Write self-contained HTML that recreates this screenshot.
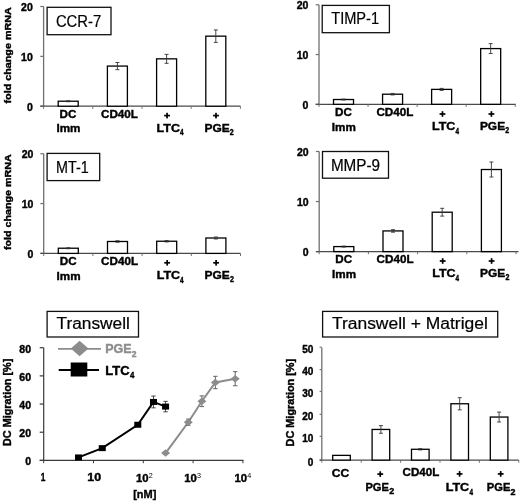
<!DOCTYPE html>
<html><head><meta charset="utf-8"><style>
html,body{margin:0;padding:0;background:#fff;width:520px;height:502px;overflow:hidden}
svg{display:block;font-family:"Liberation Sans", sans-serif;filter:grayscale(1)}
</style></head><body>
<svg width="520" height="502" viewBox="0 0 520 502">
<rect width="520" height="502" fill="#fff"/>
<line x1="43.60" y1="6.50" x2="43.60" y2="106.20" stroke="#707070" stroke-width="1.3"/>
<line x1="40.30" y1="106.20" x2="43.60" y2="106.20" stroke="#707070" stroke-width="1.2"/>
<text x="26.89" y="110.50" font-size="10.5" font-weight="bold" fill="#000" stroke="#000" stroke-width="0.4">0</text>
<line x1="40.30" y1="56.35" x2="43.60" y2="56.35" stroke="#707070" stroke-width="1.2"/>
<text x="21.07" y="60.65" font-size="10.5" font-weight="bold" fill="#000" stroke="#000" stroke-width="0.4">10</text>
<line x1="40.30" y1="6.50" x2="43.60" y2="6.50" stroke="#707070" stroke-width="1.2"/>
<text x="21.07" y="10.80" font-size="10.5" font-weight="bold" fill="#000" stroke="#000" stroke-width="0.4">20</text>
<line x1="40.30" y1="106.20" x2="240.50" y2="106.20" stroke="#4a4a4a" stroke-width="1.2"/>
<line x1="43.60" y1="106.20" x2="43.60" y2="108.80" stroke="#707070" stroke-width="1.0"/>
<line x1="92.80" y1="106.20" x2="92.80" y2="108.80" stroke="#707070" stroke-width="1.0"/>
<line x1="142.00" y1="106.20" x2="142.00" y2="108.80" stroke="#707070" stroke-width="1.0"/>
<line x1="191.20" y1="106.20" x2="191.20" y2="108.80" stroke="#707070" stroke-width="1.0"/>
<line x1="240.40" y1="106.20" x2="240.40" y2="108.80" stroke="#707070" stroke-width="1.0"/>
<rect x="58.20" y="101.22" width="20.00" height="4.98" fill="#fff" stroke="#000" stroke-width="1.3"/>
<line x1="68.20" y1="100.72" x2="68.20" y2="101.71" stroke="#333" stroke-width="0.9"/>
<line x1="66.20" y1="100.72" x2="70.20" y2="100.72" stroke="#333" stroke-width="0.9"/>
<line x1="66.20" y1="101.71" x2="70.20" y2="101.71" stroke="#333" stroke-width="0.9"/>
<rect x="107.40" y="66.07" width="20.00" height="40.13" fill="#fff" stroke="#000" stroke-width="1.3"/>
<line x1="117.40" y1="62.48" x2="117.40" y2="69.66" stroke="#333" stroke-width="0.9"/>
<line x1="115.40" y1="62.48" x2="119.40" y2="62.48" stroke="#333" stroke-width="0.9"/>
<line x1="115.40" y1="69.66" x2="119.40" y2="69.66" stroke="#333" stroke-width="0.9"/>
<rect x="156.60" y="58.84" width="20.00" height="47.36" fill="#fff" stroke="#000" stroke-width="1.3"/>
<line x1="166.60" y1="54.36" x2="166.60" y2="63.33" stroke="#333" stroke-width="0.9"/>
<line x1="164.60" y1="54.36" x2="168.60" y2="54.36" stroke="#333" stroke-width="0.9"/>
<line x1="164.60" y1="63.33" x2="168.60" y2="63.33" stroke="#333" stroke-width="0.9"/>
<rect x="205.80" y="36.16" width="20.00" height="70.04" fill="#fff" stroke="#000" stroke-width="1.3"/>
<line x1="215.80" y1="29.93" x2="215.80" y2="42.39" stroke="#333" stroke-width="0.9"/>
<line x1="213.80" y1="29.93" x2="217.80" y2="29.93" stroke="#333" stroke-width="0.9"/>
<line x1="213.80" y1="42.39" x2="217.80" y2="42.39" stroke="#333" stroke-width="0.9"/>
<rect x="47.10" y="7.30" width="63.90" height="27.40" fill="#fff" stroke="#111" stroke-width="1.3"/>
<text x="55.91" y="26.70" font-size="16" font-weight="normal" fill="#000" stroke="#000" stroke-width="0.2" textLength="45.35" lengthAdjust="spacingAndGlyphs">CCR-7</text>
<text x="59.64" y="118.00" font-size="11.5" font-weight="bold" fill="#000" stroke="#000" stroke-width="0.4" textLength="16.80" lengthAdjust="spacingAndGlyphs">DC</text>
<text x="56.44" y="132.40" font-size="11.5" font-weight="bold" fill="#000" stroke="#000" stroke-width="0.4" textLength="24.03" lengthAdjust="spacingAndGlyphs">Imm</text>
<text x="101.03" y="117.70" font-size="11.5" font-weight="bold" fill="#000" stroke="#000" stroke-width="0.4" textLength="36.95" lengthAdjust="spacingAndGlyphs">CD40L</text>
<rect x="164.17" y="114.75" width="5.80" height="1.70" fill="#000"/>
<rect x="166.22" y="112.80" width="1.70" height="5.60" fill="#000"/>
<rect x="213.10" y="114.75" width="5.80" height="1.70" fill="#000"/>
<rect x="215.15" y="112.80" width="1.70" height="5.60" fill="#000"/>
<text x="156.59" y="131.50" font-size="11.5" font-weight="bold" fill="#000" stroke="#000" stroke-width="0.4" textLength="23.42" lengthAdjust="spacingAndGlyphs">LTC</text>
<text x="180.00" y="135.30" font-size="8.5" font-weight="bold" fill="#000" stroke="#000" stroke-width="0.4" textLength="3.53" lengthAdjust="spacingAndGlyphs">4</text>
<text x="204.52" y="131.50" font-size="11.5" font-weight="bold" fill="#000" stroke="#000" stroke-width="0.4" textLength="25.22" lengthAdjust="spacingAndGlyphs">PGE</text>
<text x="229.85" y="134.90" font-size="8.5" font-weight="bold" fill="#000" stroke="#000" stroke-width="0.4" textLength="3.94" lengthAdjust="spacingAndGlyphs">2</text>
<text transform="translate(11.40,103.46) rotate(-90)" x="0" y="0" font-size="9.8" font-weight="bold" stroke="#000" stroke-width="0.4" textLength="96.23" lengthAdjust="spacingAndGlyphs">fold change mRNA</text>
<line x1="319.00" y1="4.80" x2="319.00" y2="104.30" stroke="#707070" stroke-width="1.3"/>
<line x1="315.70" y1="104.30" x2="319.00" y2="104.30" stroke="#707070" stroke-width="1.2"/>
<text x="302.59" y="108.60" font-size="10.5" font-weight="bold" fill="#000" stroke="#000" stroke-width="0.4">0</text>
<line x1="315.70" y1="54.55" x2="319.00" y2="54.55" stroke="#707070" stroke-width="1.2"/>
<text x="296.76" y="58.85" font-size="10.5" font-weight="bold" fill="#000" stroke="#000" stroke-width="0.4">10</text>
<line x1="315.70" y1="4.80" x2="319.00" y2="4.80" stroke="#707070" stroke-width="1.2"/>
<text x="296.76" y="9.10" font-size="10.5" font-weight="bold" fill="#000" stroke="#000" stroke-width="0.4">20</text>
<line x1="315.70" y1="104.30" x2="515.80" y2="104.30" stroke="#4a4a4a" stroke-width="1.2"/>
<line x1="319.00" y1="104.30" x2="319.00" y2="106.90" stroke="#707070" stroke-width="1.0"/>
<line x1="368.05" y1="104.30" x2="368.05" y2="106.90" stroke="#707070" stroke-width="1.0"/>
<line x1="417.10" y1="104.30" x2="417.10" y2="106.90" stroke="#707070" stroke-width="1.0"/>
<line x1="466.15" y1="104.30" x2="466.15" y2="106.90" stroke="#707070" stroke-width="1.0"/>
<line x1="515.20" y1="104.30" x2="515.20" y2="106.90" stroke="#707070" stroke-width="1.0"/>
<rect x="333.52" y="99.52" width="20.00" height="4.78" fill="#fff" stroke="#000" stroke-width="1.3"/>
<line x1="343.52" y1="99.03" x2="343.52" y2="100.02" stroke="#333" stroke-width="0.9"/>
<line x1="341.52" y1="99.03" x2="345.52" y2="99.03" stroke="#333" stroke-width="0.9"/>
<line x1="341.52" y1="100.02" x2="345.52" y2="100.02" stroke="#333" stroke-width="0.9"/>
<rect x="382.57" y="94.20" width="20.00" height="10.10" fill="#fff" stroke="#000" stroke-width="1.3"/>
<line x1="392.57" y1="93.45" x2="392.57" y2="94.95" stroke="#333" stroke-width="0.9"/>
<line x1="390.57" y1="93.45" x2="394.57" y2="93.45" stroke="#333" stroke-width="0.9"/>
<line x1="390.57" y1="94.95" x2="394.57" y2="94.95" stroke="#333" stroke-width="0.9"/>
<rect x="431.62" y="89.38" width="20.00" height="14.92" fill="#fff" stroke="#000" stroke-width="1.3"/>
<line x1="441.62" y1="88.38" x2="441.62" y2="90.37" stroke="#333" stroke-width="0.9"/>
<line x1="439.62" y1="88.38" x2="443.62" y2="88.38" stroke="#333" stroke-width="0.9"/>
<line x1="439.62" y1="90.37" x2="443.62" y2="90.37" stroke="#333" stroke-width="0.9"/>
<rect x="480.67" y="48.58" width="20.00" height="55.72" fill="#fff" stroke="#000" stroke-width="1.3"/>
<line x1="490.67" y1="43.61" x2="490.67" y2="53.56" stroke="#333" stroke-width="0.9"/>
<line x1="488.67" y1="43.61" x2="492.67" y2="43.61" stroke="#333" stroke-width="0.9"/>
<line x1="488.67" y1="53.56" x2="492.67" y2="53.56" stroke="#333" stroke-width="0.9"/>
<rect x="322.20" y="5.40" width="67.20" height="27.30" fill="#fff" stroke="#111" stroke-width="1.3"/>
<text x="331.23" y="24.40" font-size="15.6" font-weight="normal" fill="#000" stroke="#000" stroke-width="0.2" textLength="47.89" lengthAdjust="spacingAndGlyphs">TIMP-1</text>
<text x="335.04" y="116.40" font-size="11.5" font-weight="bold" fill="#000" stroke="#000" stroke-width="0.4" textLength="16.80" lengthAdjust="spacingAndGlyphs">DC</text>
<text x="331.84" y="130.80" font-size="11.5" font-weight="bold" fill="#000" stroke="#000" stroke-width="0.4" textLength="24.03" lengthAdjust="spacingAndGlyphs">Imm</text>
<text x="376.43" y="116.10" font-size="11.5" font-weight="bold" fill="#000" stroke="#000" stroke-width="0.4" textLength="36.95" lengthAdjust="spacingAndGlyphs">CD40L</text>
<rect x="439.57" y="113.15" width="5.80" height="1.70" fill="#000"/>
<rect x="441.62" y="111.20" width="1.70" height="5.60" fill="#000"/>
<rect x="488.50" y="113.15" width="5.80" height="1.70" fill="#000"/>
<rect x="490.55" y="111.20" width="1.70" height="5.60" fill="#000"/>
<text x="431.99" y="129.90" font-size="11.5" font-weight="bold" fill="#000" stroke="#000" stroke-width="0.4" textLength="23.42" lengthAdjust="spacingAndGlyphs">LTC</text>
<text x="455.40" y="133.70" font-size="8.5" font-weight="bold" fill="#000" stroke="#000" stroke-width="0.4" textLength="3.53" lengthAdjust="spacingAndGlyphs">4</text>
<text x="479.92" y="129.90" font-size="11.5" font-weight="bold" fill="#000" stroke="#000" stroke-width="0.4" textLength="25.22" lengthAdjust="spacingAndGlyphs">PGE</text>
<text x="505.25" y="133.30" font-size="8.5" font-weight="bold" fill="#000" stroke="#000" stroke-width="0.4" textLength="3.94" lengthAdjust="spacingAndGlyphs">2</text>
<line x1="43.70" y1="153.70" x2="43.70" y2="253.40" stroke="#707070" stroke-width="1.3"/>
<line x1="40.40" y1="253.40" x2="43.70" y2="253.40" stroke="#707070" stroke-width="1.2"/>
<text x="27.49" y="257.70" font-size="10.5" font-weight="bold" fill="#000" stroke="#000" stroke-width="0.4">0</text>
<line x1="40.40" y1="203.55" x2="43.70" y2="203.55" stroke="#707070" stroke-width="1.2"/>
<text x="21.67" y="207.85" font-size="10.5" font-weight="bold" fill="#000" stroke="#000" stroke-width="0.4">10</text>
<line x1="40.40" y1="153.70" x2="43.70" y2="153.70" stroke="#707070" stroke-width="1.2"/>
<text x="21.67" y="158.00" font-size="10.5" font-weight="bold" fill="#000" stroke="#000" stroke-width="0.4">20</text>
<line x1="40.40" y1="253.40" x2="240.50" y2="253.40" stroke="#4a4a4a" stroke-width="1.2"/>
<line x1="43.70" y1="253.40" x2="43.70" y2="256.00" stroke="#707070" stroke-width="1.0"/>
<line x1="92.90" y1="253.40" x2="92.90" y2="256.00" stroke="#707070" stroke-width="1.0"/>
<line x1="142.10" y1="253.40" x2="142.10" y2="256.00" stroke="#707070" stroke-width="1.0"/>
<line x1="191.30" y1="253.40" x2="191.30" y2="256.00" stroke="#707070" stroke-width="1.0"/>
<line x1="240.50" y1="253.40" x2="240.50" y2="256.00" stroke="#707070" stroke-width="1.0"/>
<rect x="58.30" y="248.22" width="20.00" height="5.18" fill="#fff" stroke="#000" stroke-width="1.3"/>
<line x1="68.30" y1="247.72" x2="68.30" y2="248.71" stroke="#333" stroke-width="0.9"/>
<line x1="66.30" y1="247.72" x2="70.30" y2="247.72" stroke="#333" stroke-width="0.9"/>
<line x1="66.30" y1="248.71" x2="70.30" y2="248.71" stroke="#333" stroke-width="0.9"/>
<rect x="107.50" y="241.49" width="20.00" height="11.91" fill="#fff" stroke="#000" stroke-width="1.3"/>
<line x1="117.50" y1="240.74" x2="117.50" y2="242.23" stroke="#333" stroke-width="0.9"/>
<line x1="115.50" y1="240.74" x2="119.50" y2="240.74" stroke="#333" stroke-width="0.9"/>
<line x1="115.50" y1="242.23" x2="119.50" y2="242.23" stroke="#333" stroke-width="0.9"/>
<rect x="156.70" y="241.24" width="20.00" height="12.16" fill="#fff" stroke="#000" stroke-width="1.3"/>
<line x1="166.70" y1="240.49" x2="166.70" y2="241.98" stroke="#333" stroke-width="0.9"/>
<line x1="164.70" y1="240.49" x2="168.70" y2="240.49" stroke="#333" stroke-width="0.9"/>
<line x1="164.70" y1="241.98" x2="168.70" y2="241.98" stroke="#333" stroke-width="0.9"/>
<rect x="205.90" y="238.00" width="20.00" height="15.40" fill="#fff" stroke="#000" stroke-width="1.3"/>
<line x1="215.90" y1="237.00" x2="215.90" y2="238.99" stroke="#333" stroke-width="0.9"/>
<line x1="213.90" y1="237.00" x2="217.90" y2="237.00" stroke="#333" stroke-width="0.9"/>
<line x1="213.90" y1="238.99" x2="217.90" y2="238.99" stroke="#333" stroke-width="0.9"/>
<rect x="47.10" y="153.40" width="52.60" height="27.20" fill="#fff" stroke="#111" stroke-width="1.3"/>
<text x="56.05" y="172.70" font-size="15.6" font-weight="normal" fill="#000" stroke="#000" stroke-width="0.2" textLength="32.71" lengthAdjust="spacingAndGlyphs">MT-1</text>
<text x="59.74" y="265.20" font-size="11.5" font-weight="bold" fill="#000" stroke="#000" stroke-width="0.4" textLength="16.80" lengthAdjust="spacingAndGlyphs">DC</text>
<text x="56.54" y="279.60" font-size="11.5" font-weight="bold" fill="#000" stroke="#000" stroke-width="0.4" textLength="24.03" lengthAdjust="spacingAndGlyphs">Imm</text>
<text x="101.13" y="264.90" font-size="11.5" font-weight="bold" fill="#000" stroke="#000" stroke-width="0.4" textLength="36.95" lengthAdjust="spacingAndGlyphs">CD40L</text>
<rect x="164.27" y="261.95" width="5.80" height="1.70" fill="#000"/>
<rect x="166.32" y="260.00" width="1.70" height="5.60" fill="#000"/>
<rect x="213.20" y="261.95" width="5.80" height="1.70" fill="#000"/>
<rect x="215.25" y="260.00" width="1.70" height="5.60" fill="#000"/>
<text x="156.69" y="278.70" font-size="11.5" font-weight="bold" fill="#000" stroke="#000" stroke-width="0.4" textLength="23.42" lengthAdjust="spacingAndGlyphs">LTC</text>
<text x="180.10" y="282.50" font-size="8.5" font-weight="bold" fill="#000" stroke="#000" stroke-width="0.4" textLength="3.53" lengthAdjust="spacingAndGlyphs">4</text>
<text x="204.62" y="278.70" font-size="11.5" font-weight="bold" fill="#000" stroke="#000" stroke-width="0.4" textLength="25.22" lengthAdjust="spacingAndGlyphs">PGE</text>
<text x="229.95" y="282.10" font-size="8.5" font-weight="bold" fill="#000" stroke="#000" stroke-width="0.4" textLength="3.94" lengthAdjust="spacingAndGlyphs">2</text>
<text transform="translate(11.40,250.06) rotate(-90)" x="0" y="0" font-size="9.8" font-weight="bold" stroke="#000" stroke-width="0.4" textLength="95.83" lengthAdjust="spacingAndGlyphs">fold change mRNA</text>
<line x1="319.20" y1="151.50" x2="319.20" y2="251.60" stroke="#707070" stroke-width="1.3"/>
<line x1="315.90" y1="251.60" x2="319.20" y2="251.60" stroke="#707070" stroke-width="1.2"/>
<text x="302.79" y="255.90" font-size="10.5" font-weight="bold" fill="#000" stroke="#000" stroke-width="0.4">0</text>
<line x1="315.90" y1="201.55" x2="319.20" y2="201.55" stroke="#707070" stroke-width="1.2"/>
<text x="296.96" y="205.85" font-size="10.5" font-weight="bold" fill="#000" stroke="#000" stroke-width="0.4">10</text>
<line x1="315.90" y1="151.50" x2="319.20" y2="151.50" stroke="#707070" stroke-width="1.2"/>
<text x="296.96" y="155.80" font-size="10.5" font-weight="bold" fill="#000" stroke="#000" stroke-width="0.4">20</text>
<line x1="315.90" y1="251.60" x2="518.50" y2="251.60" stroke="#4a4a4a" stroke-width="1.2"/>
<line x1="319.20" y1="251.60" x2="319.20" y2="254.20" stroke="#707070" stroke-width="1.0"/>
<line x1="368.40" y1="251.60" x2="368.40" y2="254.20" stroke="#707070" stroke-width="1.0"/>
<line x1="417.60" y1="251.60" x2="417.60" y2="254.20" stroke="#707070" stroke-width="1.0"/>
<line x1="466.80" y1="251.60" x2="466.80" y2="254.20" stroke="#707070" stroke-width="1.0"/>
<line x1="516.00" y1="251.60" x2="516.00" y2="254.20" stroke="#707070" stroke-width="1.0"/>
<rect x="333.80" y="246.59" width="20.00" height="5.00" fill="#fff" stroke="#000" stroke-width="1.3"/>
<line x1="343.80" y1="246.09" x2="343.80" y2="247.10" stroke="#333" stroke-width="0.9"/>
<line x1="341.80" y1="246.09" x2="345.80" y2="246.09" stroke="#333" stroke-width="0.9"/>
<line x1="341.80" y1="247.10" x2="345.80" y2="247.10" stroke="#333" stroke-width="0.9"/>
<rect x="383.00" y="230.93" width="20.00" height="20.67" fill="#fff" stroke="#000" stroke-width="1.3"/>
<line x1="393.00" y1="229.68" x2="393.00" y2="232.18" stroke="#333" stroke-width="0.9"/>
<line x1="391.00" y1="229.68" x2="395.00" y2="229.68" stroke="#333" stroke-width="0.9"/>
<line x1="391.00" y1="232.18" x2="395.00" y2="232.18" stroke="#333" stroke-width="0.9"/>
<rect x="432.20" y="212.21" width="20.00" height="39.39" fill="#fff" stroke="#000" stroke-width="1.3"/>
<line x1="442.20" y1="208.31" x2="442.20" y2="216.11" stroke="#333" stroke-width="0.9"/>
<line x1="440.20" y1="208.31" x2="444.20" y2="208.31" stroke="#333" stroke-width="0.9"/>
<line x1="440.20" y1="216.11" x2="444.20" y2="216.11" stroke="#333" stroke-width="0.9"/>
<rect x="481.40" y="169.52" width="20.00" height="82.08" fill="#fff" stroke="#000" stroke-width="1.3"/>
<line x1="491.40" y1="162.01" x2="491.40" y2="177.03" stroke="#333" stroke-width="0.9"/>
<line x1="489.40" y1="162.01" x2="493.40" y2="162.01" stroke="#333" stroke-width="0.9"/>
<line x1="489.40" y1="177.03" x2="493.40" y2="177.03" stroke="#333" stroke-width="0.9"/>
<rect x="322.50" y="151.50" width="66.00" height="26.70" fill="#fff" stroke="#111" stroke-width="1.3"/>
<text x="330.88" y="171.15" font-size="15.6" font-weight="normal" fill="#000" stroke="#000" stroke-width="0.2" textLength="49.19" lengthAdjust="spacingAndGlyphs">MMP-9</text>
<text x="335.24" y="263.40" font-size="11.5" font-weight="bold" fill="#000" stroke="#000" stroke-width="0.4" textLength="16.80" lengthAdjust="spacingAndGlyphs">DC</text>
<text x="332.04" y="277.80" font-size="11.5" font-weight="bold" fill="#000" stroke="#000" stroke-width="0.4" textLength="24.03" lengthAdjust="spacingAndGlyphs">Imm</text>
<text x="376.63" y="263.10" font-size="11.5" font-weight="bold" fill="#000" stroke="#000" stroke-width="0.4" textLength="36.95" lengthAdjust="spacingAndGlyphs">CD40L</text>
<rect x="439.77" y="260.15" width="5.80" height="1.70" fill="#000"/>
<rect x="441.82" y="258.20" width="1.70" height="5.60" fill="#000"/>
<rect x="488.70" y="260.15" width="5.80" height="1.70" fill="#000"/>
<rect x="490.75" y="258.20" width="1.70" height="5.60" fill="#000"/>
<text x="432.19" y="276.90" font-size="11.5" font-weight="bold" fill="#000" stroke="#000" stroke-width="0.4" textLength="23.42" lengthAdjust="spacingAndGlyphs">LTC</text>
<text x="455.60" y="280.70" font-size="8.5" font-weight="bold" fill="#000" stroke="#000" stroke-width="0.4" textLength="3.53" lengthAdjust="spacingAndGlyphs">4</text>
<text x="480.12" y="276.90" font-size="11.5" font-weight="bold" fill="#000" stroke="#000" stroke-width="0.4" textLength="25.22" lengthAdjust="spacingAndGlyphs">PGE</text>
<text x="505.45" y="280.30" font-size="8.5" font-weight="bold" fill="#000" stroke="#000" stroke-width="0.4" textLength="3.94" lengthAdjust="spacingAndGlyphs">2</text>
<line x1="43.70" y1="347.70" x2="43.70" y2="460.40" stroke="#3a3a3a" stroke-width="1.2"/>
<line x1="39.70" y1="460.40" x2="43.70" y2="460.40" stroke="#3a3a3a" stroke-width="1.2"/>
<text x="25.19" y="465.40" font-size="10.5" font-weight="bold" fill="#000" stroke="#000" stroke-width="0.4">0</text>
<line x1="39.70" y1="432.22" x2="43.70" y2="432.22" stroke="#3a3a3a" stroke-width="1.2"/>
<text x="19.36" y="437.22" font-size="10.5" font-weight="bold" fill="#000" stroke="#000" stroke-width="0.4">20</text>
<line x1="39.70" y1="404.05" x2="43.70" y2="404.05" stroke="#3a3a3a" stroke-width="1.2"/>
<text x="19.36" y="409.05" font-size="10.5" font-weight="bold" fill="#000" stroke="#000" stroke-width="0.4">40</text>
<line x1="39.70" y1="375.88" x2="43.70" y2="375.88" stroke="#3a3a3a" stroke-width="1.2"/>
<text x="19.36" y="380.88" font-size="10.5" font-weight="bold" fill="#000" stroke="#000" stroke-width="0.4">60</text>
<line x1="39.70" y1="347.70" x2="43.70" y2="347.70" stroke="#3a3a3a" stroke-width="1.2"/>
<text x="19.36" y="352.70" font-size="10.5" font-weight="bold" fill="#000" stroke="#000" stroke-width="0.4">80</text>
<line x1="39.70" y1="460.40" x2="243.50" y2="460.40" stroke="#3a3a3a" stroke-width="1.2"/>
<line x1="43.70" y1="460.40" x2="43.70" y2="463.20" stroke="#3a3a3a" stroke-width="1.0"/>
<line x1="93.50" y1="460.40" x2="93.50" y2="463.20" stroke="#3a3a3a" stroke-width="1.0"/>
<line x1="143.30" y1="460.40" x2="143.30" y2="463.20" stroke="#3a3a3a" stroke-width="1.0"/>
<line x1="193.10" y1="460.40" x2="193.10" y2="463.20" stroke="#3a3a3a" stroke-width="1.0"/>
<line x1="242.90" y1="460.40" x2="242.90" y2="463.20" stroke="#3a3a3a" stroke-width="1.0"/>
<text x="40.75" y="481.40" font-size="11" font-weight="bold" fill="#000" stroke="#000" stroke-width="0.4" textLength="4.66" lengthAdjust="spacingAndGlyphs">1</text>
<text x="87.39" y="481.40" font-size="11" font-weight="bold" fill="#000" stroke="#000" stroke-width="0.4" textLength="13.84" lengthAdjust="spacingAndGlyphs">10</text>
<text x="136.06" y="482.00" font-size="11" font-weight="bold" fill="#000" stroke="#000" stroke-width="0.4" textLength="12.62" lengthAdjust="spacingAndGlyphs">10</text>
<text x="148.80" y="477.8" font-size="7.2" fill="#000">2</text>
<text x="184.26" y="482.00" font-size="11" font-weight="bold" fill="#000" stroke="#000" stroke-width="0.4" textLength="12.62" lengthAdjust="spacingAndGlyphs">10</text>
<text x="197.00" y="477.8" font-size="7.2" fill="#000">3</text>
<text x="234.56" y="482.00" font-size="11" font-weight="bold" fill="#000" stroke="#000" stroke-width="0.4" textLength="12.62" lengthAdjust="spacingAndGlyphs">10</text>
<text x="247.30" y="477.8" font-size="7.2" fill="#000">4</text>
<text x="133.20" y="497.60" font-size="11.8" font-weight="bold" fill="#000" stroke="#000" stroke-width="0.4" textLength="23.16" lengthAdjust="spacingAndGlyphs">[nM]</text>
<text transform="translate(10.60,446.00) rotate(-90)" x="0" y="0" font-size="10.3" font-weight="bold" stroke="#000" stroke-width="0.4" textLength="87.35" lengthAdjust="spacingAndGlyphs">DC Migration [%]</text>
<polyline points="165.57,453.07 188.27,422.22 201.87,401.23 215.37,382.50 235.19,378.69" fill="none" stroke="#8c8c8c" stroke-width="2"/>
<polygon points="161.07,453.07 165.57,449.27 170.07,453.07 165.57,456.87" fill="#8c8c8c"/>
<line x1="188.27" y1="419.12" x2="188.27" y2="425.32" stroke="#555" stroke-width="0.9"/>
<line x1="186.07" y1="419.12" x2="190.47" y2="419.12" stroke="#555" stroke-width="0.9"/>
<line x1="186.07" y1="425.32" x2="190.47" y2="425.32" stroke="#555" stroke-width="0.9"/>
<polygon points="183.77,422.22 188.27,418.42 192.77,422.22 188.27,426.02" fill="#8c8c8c"/>
<line x1="201.87" y1="395.88" x2="201.87" y2="406.59" stroke="#555" stroke-width="0.9"/>
<line x1="199.67" y1="395.88" x2="204.07" y2="395.88" stroke="#555" stroke-width="0.9"/>
<line x1="199.67" y1="406.59" x2="204.07" y2="406.59" stroke="#555" stroke-width="0.9"/>
<polygon points="197.37,401.23 201.87,397.43 206.37,401.23 201.87,405.03" fill="#8c8c8c"/>
<line x1="215.37" y1="376.30" x2="215.37" y2="388.69" stroke="#555" stroke-width="0.9"/>
<line x1="213.17" y1="376.30" x2="217.57" y2="376.30" stroke="#555" stroke-width="0.9"/>
<line x1="213.17" y1="388.69" x2="217.57" y2="388.69" stroke="#555" stroke-width="0.9"/>
<polygon points="210.87,382.50 215.37,378.70 219.87,382.50 215.37,386.30" fill="#8c8c8c"/>
<line x1="235.19" y1="371.65" x2="235.19" y2="385.74" stroke="#555" stroke-width="0.9"/>
<line x1="232.99" y1="371.65" x2="237.39" y2="371.65" stroke="#555" stroke-width="0.9"/>
<line x1="232.99" y1="385.74" x2="237.39" y2="385.74" stroke="#555" stroke-width="0.9"/>
<polygon points="230.69,378.69 235.19,374.89 239.69,378.69 235.19,382.49" fill="#8c8c8c"/>
<polyline points="78.51,457.44 102.27,448.14 137.79,424.76 153.47,401.94 165.57,406.59" fill="none" stroke="#000" stroke-width="2"/>
<rect x="75.01" y="454.44" width="7" height="6" fill="#000"/>
<rect x="98.77" y="445.14" width="7" height="6" fill="#000"/>
<line x1="137.79" y1="423.63" x2="137.79" y2="425.89" stroke="#333" stroke-width="0.9"/>
<line x1="135.59" y1="423.63" x2="139.99" y2="423.63" stroke="#333" stroke-width="0.9"/>
<line x1="135.59" y1="425.89" x2="139.99" y2="425.89" stroke="#333" stroke-width="0.9"/>
<rect x="134.29" y="421.76" width="7" height="6" fill="#000"/>
<line x1="153.47" y1="396.02" x2="153.47" y2="407.85" stroke="#333" stroke-width="0.9"/>
<line x1="151.27" y1="396.02" x2="155.67" y2="396.02" stroke="#333" stroke-width="0.9"/>
<line x1="151.27" y1="407.85" x2="155.67" y2="407.85" stroke="#333" stroke-width="0.9"/>
<rect x="149.97" y="398.94" width="7" height="6" fill="#000"/>
<line x1="165.57" y1="401.37" x2="165.57" y2="411.80" stroke="#333" stroke-width="0.9"/>
<line x1="163.37" y1="401.37" x2="167.77" y2="401.37" stroke="#333" stroke-width="0.9"/>
<line x1="163.37" y1="411.80" x2="167.77" y2="411.80" stroke="#333" stroke-width="0.9"/>
<rect x="162.07" y="403.59" width="7" height="6" fill="#000"/>
<line x1="58.00" y1="348.80" x2="101.00" y2="348.80" stroke="#8c8c8c" stroke-width="1.8"/>
<polygon points="70.8,348.5 79.6,340.8 88.5,348.5 79.6,356.2" fill="#8c8c8c"/>
<text x="105.29" y="353.30" font-size="12.3" font-weight="bold" fill="#8c8c8c" stroke="#8c8c8c" stroke-width="0.4" textLength="26.37" lengthAdjust="spacingAndGlyphs">PGE</text>
<text x="131.80" y="356.60" font-size="8.5" font-weight="bold" fill="#8c8c8c" stroke="#8c8c8c" stroke-width="0.4" textLength="4.75" lengthAdjust="spacingAndGlyphs">2</text>
<line x1="58.70" y1="370.00" x2="99.00" y2="370.00" stroke="#000" stroke-width="1.8"/>
<rect x="70.7" y="362.5" width="16.6" height="14" fill="#000"/>
<text x="105.26" y="374.80" font-size="12.3" font-weight="bold" fill="#000" stroke="#000" stroke-width="0.4" textLength="24.26" lengthAdjust="spacingAndGlyphs">LTC</text>
<text x="129.98" y="378.10" font-size="8.5" font-weight="bold" fill="#000" stroke="#000" stroke-width="0.4" textLength="4.37" lengthAdjust="spacingAndGlyphs">4</text>
<rect x="47.10" y="311.40" width="91.40" height="25.60" fill="#fff" stroke="#111" stroke-width="1.3"/>
<text x="56.47" y="329.30" font-size="16" font-weight="normal" fill="#000" stroke="#000" stroke-width="0.2" textLength="73.39" lengthAdjust="spacingAndGlyphs">Transwell</text>
<line x1="321.80" y1="347.40" x2="321.80" y2="460.10" stroke="#707070" stroke-width="1.3"/>
<line x1="319.60" y1="460.00" x2="321.80" y2="460.00" stroke="#707070" stroke-width="1.1"/>
<text x="307.85" y="466.40" font-size="10" font-weight="bold" fill="#000" stroke="#000" stroke-width="0.4">0</text>
<line x1="319.60" y1="436.30" x2="321.80" y2="436.30" stroke="#707070" stroke-width="1.1"/>
<text x="302.30" y="442.10" font-size="10" font-weight="bold" fill="#000" stroke="#000" stroke-width="0.4">10</text>
<line x1="319.60" y1="414.30" x2="321.80" y2="414.30" stroke="#707070" stroke-width="1.1"/>
<text x="302.30" y="420.10" font-size="10" font-weight="bold" fill="#000" stroke="#000" stroke-width="0.4">20</text>
<line x1="319.60" y1="391.40" x2="321.80" y2="391.40" stroke="#707070" stroke-width="1.1"/>
<text x="302.30" y="397.20" font-size="10" font-weight="bold" fill="#000" stroke="#000" stroke-width="0.4">30</text>
<line x1="319.60" y1="369.60" x2="321.80" y2="369.60" stroke="#707070" stroke-width="1.1"/>
<text x="302.30" y="375.40" font-size="10" font-weight="bold" fill="#000" stroke="#000" stroke-width="0.4">40</text>
<line x1="319.60" y1="347.20" x2="321.80" y2="347.20" stroke="#707070" stroke-width="1.1"/>
<text x="302.30" y="353.00" font-size="10" font-weight="bold" fill="#000" stroke="#000" stroke-width="0.4">50</text>
<line x1="319.60" y1="460.10" x2="518.80" y2="460.10" stroke="#4a4a4a" stroke-width="1.2"/>
<line x1="321.80" y1="460.10" x2="321.80" y2="462.70" stroke="#707070" stroke-width="1.0"/>
<line x1="361.20" y1="460.10" x2="361.20" y2="462.70" stroke="#707070" stroke-width="1.0"/>
<line x1="400.60" y1="460.10" x2="400.60" y2="462.70" stroke="#707070" stroke-width="1.0"/>
<line x1="440.00" y1="460.10" x2="440.00" y2="462.70" stroke="#707070" stroke-width="1.0"/>
<line x1="479.40" y1="460.10" x2="479.40" y2="462.70" stroke="#707070" stroke-width="1.0"/>
<line x1="518.80" y1="460.10" x2="518.80" y2="462.70" stroke="#707070" stroke-width="1.0"/>
<rect x="332.70" y="455.37" width="17.60" height="4.73" fill="#fff" stroke="#000" stroke-width="1.3"/>
<rect x="372.10" y="429.45" width="17.60" height="30.65" fill="#fff" stroke="#000" stroke-width="1.3"/>
<line x1="380.90" y1="425.61" x2="380.90" y2="433.28" stroke="#333" stroke-width="0.9"/>
<line x1="378.90" y1="425.61" x2="382.90" y2="425.61" stroke="#333" stroke-width="0.9"/>
<line x1="378.90" y1="433.28" x2="382.90" y2="433.28" stroke="#333" stroke-width="0.9"/>
<rect x="411.50" y="449.28" width="17.60" height="10.82" fill="#fff" stroke="#000" stroke-width="1.3"/>
<line x1="420.30" y1="448.60" x2="420.30" y2="449.96" stroke="#333" stroke-width="0.9"/>
<line x1="418.30" y1="448.60" x2="422.30" y2="448.60" stroke="#333" stroke-width="0.9"/>
<line x1="418.30" y1="449.96" x2="422.30" y2="449.96" stroke="#333" stroke-width="0.9"/>
<rect x="450.90" y="403.75" width="17.60" height="56.35" fill="#fff" stroke="#000" stroke-width="1.3"/>
<line x1="459.70" y1="397.66" x2="459.70" y2="409.84" stroke="#333" stroke-width="0.9"/>
<line x1="457.70" y1="397.66" x2="461.70" y2="397.66" stroke="#333" stroke-width="0.9"/>
<line x1="457.70" y1="409.84" x2="461.70" y2="409.84" stroke="#333" stroke-width="0.9"/>
<rect x="490.30" y="417.05" width="17.60" height="43.05" fill="#fff" stroke="#000" stroke-width="1.3"/>
<line x1="499.10" y1="412.09" x2="499.10" y2="422.01" stroke="#333" stroke-width="0.9"/>
<line x1="497.10" y1="412.09" x2="501.10" y2="412.09" stroke="#333" stroke-width="0.9"/>
<line x1="497.10" y1="422.01" x2="501.10" y2="422.01" stroke="#333" stroke-width="0.9"/>
<text x="331.71" y="476.60" font-size="11.5" font-weight="bold" fill="#000" stroke="#000" stroke-width="0.4" textLength="17.54" lengthAdjust="spacingAndGlyphs">CC</text>
<rect x="377.35" y="473.25" width="5.80" height="1.70" fill="#000"/>
<rect x="379.40" y="471.30" width="1.70" height="5.60" fill="#000"/>
<text x="365.38" y="490.90" font-size="11.5" font-weight="bold" fill="#000" stroke="#000" stroke-width="0.4" textLength="23.54" lengthAdjust="spacingAndGlyphs">PGE</text>
<text x="389.29" y="494.40" font-size="8.5" font-weight="bold" fill="#000" stroke="#000" stroke-width="0.4" textLength="4.98" lengthAdjust="spacingAndGlyphs">2</text>
<text x="402.64" y="476.40" font-size="11.5" font-weight="bold" fill="#000" stroke="#000" stroke-width="0.4" textLength="36.64" lengthAdjust="spacingAndGlyphs">CD40L</text>
<rect x="456.70" y="473.05" width="5.80" height="1.70" fill="#000"/>
<rect x="458.75" y="471.10" width="1.70" height="5.60" fill="#000"/>
<text x="445.68" y="491.30" font-size="11.5" font-weight="bold" fill="#000" stroke="#000" stroke-width="0.4" textLength="23.53" lengthAdjust="spacingAndGlyphs">LTC</text>
<text x="469.60" y="494.80" font-size="8.5" font-weight="bold" fill="#000" stroke="#000" stroke-width="0.4" textLength="3.53" lengthAdjust="spacingAndGlyphs">4</text>
<rect x="497.80" y="473.05" width="5.80" height="1.70" fill="#000"/>
<rect x="499.85" y="471.10" width="1.70" height="5.60" fill="#000"/>
<text x="486.77" y="491.30" font-size="11.5" font-weight="bold" fill="#000" stroke="#000" stroke-width="0.4" textLength="23.64" lengthAdjust="spacingAndGlyphs">PGE</text>
<text x="510.49" y="494.80" font-size="8.5" font-weight="bold" fill="#000" stroke="#000" stroke-width="0.4" textLength="4.98" lengthAdjust="spacingAndGlyphs">2</text>
<text transform="translate(293.60,446.41) rotate(-90)" x="0" y="0" font-size="10.3" font-weight="bold" stroke="#000" stroke-width="0.4" textLength="87.56" lengthAdjust="spacingAndGlyphs">DC Migration [%]</text>
<rect x="322.60" y="311.40" width="175.10" height="25.60" fill="#fff" stroke="#111" stroke-width="1.3"/>
<text x="331.96" y="329.00" font-size="16" font-weight="normal" fill="#000" stroke="#000" stroke-width="0.2" textLength="155.83" lengthAdjust="spacingAndGlyphs">Transwell + Matrigel</text>
</svg>
</body></html>
